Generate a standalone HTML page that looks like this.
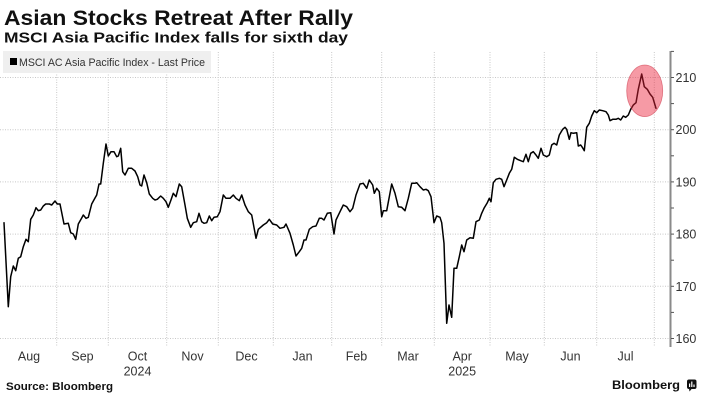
<!DOCTYPE html>
<html>
<head>
<meta charset="utf-8">
<style>
html,body{margin:0;padding:0;background:#fff;}
svg{display:block;}
</style>
</head>
<body>
<svg width="705" height="403" viewBox="0 0 705 403" xmlns="http://www.w3.org/2000/svg" font-family="'Liberation Sans', 'DejaVu Sans', sans-serif">
<rect width="705" height="403" fill="#fff"/>
<!-- titles -->
<text x="4" y="25" font-size="21" font-weight="bold" fill="#111" textLength="349" lengthAdjust="spacingAndGlyphs">Asian Stocks Retreat After Rally</text>
<text x="4" y="42.7" font-size="15" font-weight="bold" fill="#111" textLength="344" lengthAdjust="spacingAndGlyphs">MSCI Asia Pacific Index falls for sixth day</text>

<!-- horizontal gridlines -->
<g stroke="#c8c8c8" stroke-width="1" stroke-dasharray="1,1.5">
<line x1="0" y1="77.5" x2="670" y2="77.5"/>
<line x1="0" y1="129.7" x2="670" y2="129.7"/>
<line x1="0" y1="181.9" x2="670" y2="181.9"/>
<line x1="0" y1="234.1" x2="670" y2="234.1"/>
<line x1="0" y1="286.3" x2="670" y2="286.3"/>
<line x1="0" y1="338.5" x2="670" y2="338.5"/>
</g>
<!-- vertical gridlines -->
<g stroke="#c8c8c8" stroke-width="1" stroke-dasharray="1,1.5">
<line x1="56.7" y1="52" x2="56.7" y2="346"/>
<line x1="108.3" y1="52" x2="108.3" y2="346"/>
<line x1="166.7" y1="52" x2="166.7" y2="346"/>
<line x1="218.3" y1="52" x2="218.3" y2="346"/>
<line x1="273.3" y1="52" x2="273.3" y2="346"/>
<line x1="331.7" y1="52" x2="331.7" y2="346"/>
<line x1="381.7" y1="52" x2="381.7" y2="346"/>
<line x1="434.3" y1="52" x2="434.3" y2="346"/>
<line x1="490" y1="52" x2="490" y2="346"/>
<line x1="544.3" y1="52" x2="544.3" y2="346"/>
<line x1="596.7" y1="52" x2="596.7" y2="346"/>
<line x1="654.3" y1="52" x2="654.3" y2="346"/>
</g>

<!-- legend -->
<rect x="3" y="51" width="208" height="22" fill="#efefef"/>
<rect x="10" y="58" width="7" height="7" fill="#000"/>
<text x="19" y="66" font-size="11" fill="#333" textLength="186" lengthAdjust="spacingAndGlyphs">MSCI AC Asia Pacific Index - Last Price</text>

<!-- series -->
<polyline fill="none" stroke="#000" stroke-width="1.5" stroke-linejoin="round" stroke-linecap="round" points="4,222.7 8.3,306.7 10.7,276.7 13.3,266 15.7,270.7 18.3,258.3 20.7,256.7 23.3,246.7 26,239.3 28.3,241.7 30.7,219.3 33.3,215 36,207.7 38.3,210.7 40.7,210 43.3,206 45.7,204 49.3,204 51.7,205 55,201 57.3,204 60,204 64,224 68.3,223.3 70.7,232.7 73.3,234 75.7,239.3 78.3,224 81,219.3 83.3,215 86,218.3 88.3,217.3 91.7,204 94.3,199.3 96.7,195 99,184 100.7,184 103.3,163.3 106,144 108.3,156 111,151.7 114,151.7 116.7,156.7 118.3,156 120.7,148.3 122.7,171.7 125,175 128.3,168.3 131.7,168.3 135,171 137.7,176.7 140,185 141.7,186 144,175 146.7,182.7 149.3,194 152.7,198.3 155,200 157.3,199.3 160.7,196 163.3,198.3 166,201.7 168.3,207.3 170.7,200.7 173.3,193.3 176,196.7 179.3,184 181.7,186.7 185,205 187.3,218.3 190.7,227.3 193.3,222.7 196.7,221.7 199,213.3 201.7,221.7 204,223.3 206.7,222.7 209.3,216 211.7,220.7 214,217.3 217.3,216.7 220,211.7 223.3,195 226,198.3 230,198.3 233.3,195 236,198.3 239.3,200.7 241.7,195 245,205 248.3,211.7 251.7,215 256,238.3 258.3,229.3 263.3,225 266.7,222.7 269.3,219.3 272.7,224 276.7,225 280,228.3 284,227.3 286,224 290,233.3 293.3,245 296,256 299.3,251.7 301.7,248.3 304,240 306,240 309.3,229.3 312.7,226.7 316,226 319.3,218.3 321.7,218.3 324,220 327.3,213.3 330.7,212.7 334,234 336,220 340,211.7 343.3,205 346.7,206.7 350,211.7 352.7,208.3 356,195 360,184 363.3,183.3 366.7,188.3 369.3,180 372.7,185 374.3,193.3 376.7,188.3 379.3,191.7 381.7,216.7 383.3,210.7 386.7,210.7 391.7,184 395,193.3 398.3,206.7 401.7,207.3 405,210.7 408.3,198.3 411.7,183.3 415,183.3 416.7,182.7 420,186.7 423.3,190 426,189.3 428.3,190.7 431,196.7 434,222.7 436.7,216 440,217.3 441.7,222.7 444,243.3 446.7,323.3 449,305 451.7,317.3 454,268.3 456.7,268.3 459.3,256.7 461.7,245 464,251.7 466.7,240 470,237.7 473.3,238.3 476,221.7 479.3,220 481.7,213.3 484,208.3 487.3,202.7 489.3,198.3 491,201.7 493.3,182.7 496,179.3 499.3,178.3 501.7,179.3 504,186.7 506.7,180 509.3,173.3 511.7,169.3 514.3,157.3 517.3,159.3 520.7,160.7 523.3,161.7 526,154.3 528.3,161.7 530.7,153.3 533.3,151.7 536,155 538.3,158.3 541,148.3 543.3,155 546.7,156.7 549.3,155 551.7,145 554,143.3 556.7,145 559.3,135 562.7,129.3 565,127.3 566.7,129.3 569.3,139.3 571,132.7 573.3,133.3 576.7,132.7 578.3,146 580.7,145 582.3,147.3 584.3,150.7 586.7,127.3 589.3,123.3 591.7,116 594.3,110.7 596.7,112.7 599.3,110 602.7,110.7 606,111.7 608.3,115 610,120.7 612.7,119.3 616,119.3 618.3,118.3 620.7,120 623.3,116 625.7,117.3 628.3,115 630.7,109.3 633.3,105 636,102.7 638.3,89.3 641.7,74 644.3,86.7 647.3,89.3 650,94 652.7,97.3 656,108.3"/>

<!-- highlight ellipse -->
<ellipse cx="644.7" cy="90.8" rx="18" ry="25.8" fill="rgba(235,30,55,0.45)" stroke="rgba(200,40,60,0.55)" stroke-width="0.8"/>

<!-- y axis -->
<line x1="670.5" y1="51" x2="670.5" y2="347" stroke="#8a8a8a" stroke-width="2"/>
<g stroke="#555" stroke-width="1">
<line x1="671" y1="51.4" x2="674" y2="51.4"/>
<line x1="671" y1="77.5" x2="674" y2="77.5"/>
<line x1="671" y1="103.6" x2="674" y2="103.6"/>
<line x1="671" y1="129.7" x2="674" y2="129.7"/>
<line x1="671" y1="155.8" x2="674" y2="155.8"/>
<line x1="671" y1="181.9" x2="674" y2="181.9"/>
<line x1="671" y1="208" x2="674" y2="208"/>
<line x1="671" y1="234.1" x2="674" y2="234.1"/>
<line x1="671" y1="260.2" x2="674" y2="260.2"/>
<line x1="671" y1="286.3" x2="674" y2="286.3"/>
<line x1="671" y1="312.4" x2="674" y2="312.4"/>
<line x1="671" y1="338.5" x2="674" y2="338.5"/>
</g>
<g font-size="12.5" fill="#333">
<text x="675.5" y="82">210</text>
<text x="675.5" y="134.2">200</text>
<text x="675.5" y="186.4">190</text>
<text x="675.5" y="238.6">180</text>
<text x="675.5" y="290.8">170</text>
<text x="675.5" y="343">160</text>
</g>

<!-- x labels -->
<g font-size="12.5" fill="#333" text-anchor="middle">
<text x="29" y="360.5">Aug</text>
<text x="82.5" y="360.5">Sep</text>
<text x="137.5" y="360.5">Oct</text>
<text x="192.5" y="360.5">Nov</text>
<text x="246.5" y="360.5">Dec</text>
<text x="302.5" y="360.5">Jan</text>
<text x="356.5" y="360.5">Feb</text>
<text x="408" y="360.5">Mar</text>
<text x="462.2" y="360.5">Apr</text>
<text x="517" y="360.5">May</text>
<text x="570.5" y="360.5">Jun</text>
<text x="625.5" y="360.5">Jul</text>
<text x="137.5" y="375.5">2024</text>
<text x="462.2" y="375.5">2025</text>
</g>

<!-- footer -->
<text x="6" y="390" font-size="11" font-weight="bold" fill="#111" textLength="107" lengthAdjust="spacingAndGlyphs">Source: Bloomberg</text>
<text x="612" y="389" font-size="12" font-weight="bold" fill="#111" textLength="68" lengthAdjust="spacingAndGlyphs">Bloomberg</text>
<g>
<rect x="687" y="379.5" width="9.5" height="9.5" rx="2" fill="#111"/>
<polygon points="689,388.5 692,388.5 689.5,391.5" fill="#111"/>
<rect x="689" y="383.5" width="1.2" height="3.5" fill="#fff"/>
<rect x="691.2" y="381.5" width="1.2" height="5.5" fill="#fff"/>
<rect x="693.4" y="384.5" width="1.2" height="2.5" fill="#fff"/>
</g>
</svg>
</body>
</html>
